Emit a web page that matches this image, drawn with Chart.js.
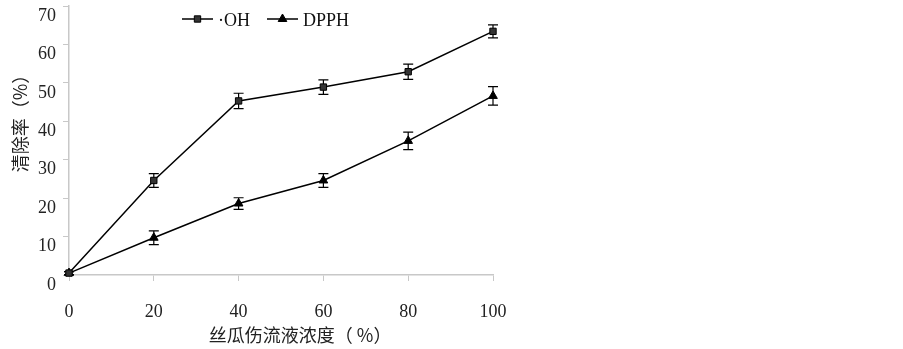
<!DOCTYPE html>
<html>
<head>
<meta charset="utf-8">
<script src="https://cdn.jsdelivr.net/npm/chart.js@4/dist/chart.umd.min.js"></script>
<style>
  body { margin: 0; background: #fff; }
  #wrap { width: 903px; height: 349px; position: relative; }
</style>
</head>
<body>
<div id="wrap"><canvas id="chart"></canvas></div>
<script>
// concentration of loofah sap (%)
const concentrations = ['0', '20', '40', '60', '80', '100'];
const ohValues = [0.5, 24.6, 45.3, 48.9, 52.9, 63.4];
const ohErrors = [0.4, 1.8, 2.0, 1.9, 2.0, 1.7];
const dpphValues = [0.5, 9.7, 18.6, 24.6, 34.9, 46.6];
const dpphErrors = [0.4, 1.8, 1.5, 1.8, 2.3, 2.4];
const yTicks = { min: 0, max: 70, step: 10 };

const serif = '"Liberation Serif", "DejaVu Serif", serif';
const cjk = '"Noto Sans CJK SC", sans-serif';
const axisGray = '#c8c8c8';

const errorBars = {
    id: 'errorBars',
    beforeDatasetsDraw(chart) {
        const ctx = chart.ctx;
        const yScale = chart.scales.y;
        ctx.save();
        ctx.strokeStyle = '#000';
        ctx.lineWidth = 1.2;
        chart.data.datasets.forEach((ds, i) => {
            const meta = chart.getDatasetMeta(i);
            meta.data.forEach((pt, j) => {
                const err = ds.errors[j];
                const top = yScale.getPixelForValue(ds.data[j] + err);
                const bot = yScale.getPixelForValue(ds.data[j] - err);
                ctx.beginPath();
                ctx.moveTo(pt.x, top); ctx.lineTo(pt.x, bot);
                ctx.moveTo(pt.x - 5, top); ctx.lineTo(pt.x + 5, top);
                ctx.moveTo(pt.x - 5, bot); ctx.lineTo(pt.x + 5, bot);
                ctx.stroke();
            });
        });
        ctx.restore();
    }
};

const titlesAndLegend = {
    id: 'titlesAndLegend',
    afterDraw(chart) {
        const ctx = chart.ctx;
        const area = chart.chartArea;
        ctx.save();
        ctx.fillStyle = '#222';
        ctx.font = '18px ' + cjk;
        ctx.textAlign = 'center';
        ctx.textBaseline = 'middle';
        // x title
        ctx.fillText('丝瓜伤流液浓度（ %）', area.left + (area.right - area.left) * 0.545, area.bottom + 60);
        // y title
        ctx.save();
        ctx.translate(20, area.top + (area.bottom - area.top) * 0.42);
        ctx.rotate(-Math.PI / 2);
        ctx.fillText('清除率（%）', 0, 0);
        ctx.restore();

        // legend: line + marker + label
        let x = 182;
        const y = 19;
        chart.data.datasets.forEach(ds => {
            ctx.strokeStyle = '#000';
            ctx.lineWidth = 1.5;
            ctx.beginPath();
            ctx.moveTo(x, y); ctx.lineTo(x + 31, y);
            ctx.stroke();
            ctx.fillStyle = ds.pointBackgroundColor;
            ctx.strokeStyle = '#000';
            ctx.lineWidth = 1;
            Chart.helpers.drawPoint(ctx, { pointStyle: ds.pointStyle, radius: ds.pointRadius, borderWidth: 1 }, x + 15.5, y);
            ctx.fillStyle = '#111';
            ctx.font = '18px ' + serif;
            ctx.textAlign = 'left';
            ctx.fillText(ds.label, x + 36, y + 2);
            x += 85;
        });
        ctx.restore();
    }
};

new Chart(document.getElementById('chart'), {
    type: 'line',
    data: {
        labels: concentrations,
        datasets: [{
            label: '·OH',
            data: ohValues,
            errors: ohErrors,
            borderColor: '#000',
            borderWidth: 1.5,
            pointStyle: 'rect',
            pointRadius: 4.5,
            pointBackgroundColor: '#333',
            pointBorderColor: '#000',
            pointBorderWidth: 1,
            tension: 0,
            clip: false
        }, {
            label: 'DPPH',
            data: dpphValues,
            errors: dpphErrors,
            borderColor: '#000',
            borderWidth: 1.5,
            pointStyle: 'triangle',
            pointRadius: 5,
            pointBackgroundColor: '#000',
            pointBorderColor: '#000',
            pointBorderWidth: 1,
            tension: 0,
            clip: false
        }]
    },
    options: {
        responsive: true,
        maintainAspectRatio: false,
        animation: false,
        layout: { padding: { top: 1, right: 410, left: 0, bottom: 0 } },
        plugins: {
            legend: { display: false },
            tooltip: { enabled: false }
        },
        scales: {
            x: {
                offset: false,
                grid: { drawOnChartArea: false, color: axisGray, tickLength: 6 },
                border: { color: axisGray, width: 1.5 },
                ticks: { color: '#222', font: { family: serif, size: 18 }, padding: 20, maxRotation: 0 },
                afterFit(scale) { scale.height = 74; }
            },
            y: {
                min: yTicks.min,
                max: yTicks.max,
                grid: { drawOnChartArea: false, color: axisGray, tickLength: 6 },
                border: { color: axisGray, width: 1.5 },
                ticks: {
                    stepSize: yTicks.step,
                    color: '#222',
                    font: { family: serif, size: 18 },
                    padding: 7,
                    labelOffset: 10
                },
                afterFit(scale) {
                    scale.width = 69;
                    scale.paddingTop = 0;
                    scale.paddingBottom = 0;
                }
            }
        }
    },
    plugins: [errorBars, titlesAndLegend]
});
</script>
</body>
</html>
